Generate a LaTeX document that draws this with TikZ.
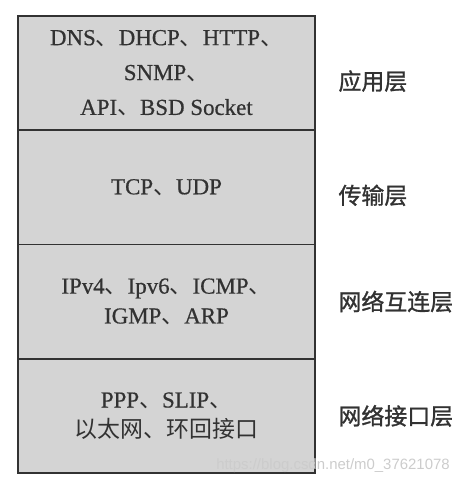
\documentclass[tikz,border=0pt]{standalone}
\usepackage{fontspec}
\setmainfont{Liberation Serif}[FakeBold=0.6]
\newfontfamily\cjk{Noto Sans CJK SC}
\newfontfamily\cjktag{Noto Sans CJK SC}[FakeBold=1.2]
\newfontfamily\wmfont{Liberation Sans}
\usetikzlibrary{positioning}
\definecolor{layergray}{RGB}{212,212,212}
\definecolor{edgegray}{RGB}{50,50,50}
\definecolor{inkgray}{RGB}{50,50,50}
\newcommand{\dn}{{\cjk 、}}

\begin{document}
\begin{tikzpicture}[x=1bp, y=-1bp,
  layer/.style={draw=edgegray, line width=1.8bp, fill=layergray, rectangle, minimum width=297bp, minimum height=114.25bp, inner sep=0pt, outer sep=0pt, align=center, text=inkgray, font=\fontsize{23}{35}\selectfont},
  tag/.style={text=inkgray, font=\cjktag\fontsize{23}{28}\selectfont},
  stamp/.style={text=gray!40, font=\wmfont\fontsize{15}{18}\selectfont}]
\useasboundingbox (0,0) rectangle (467,484);

% Application layer
\node[layer] (app) at (166.5,73.1) {DNS\dn DHCP\dn HTTP\dn\\SNMP\dn\\API\dn BSD Socket};
\node[tag, right=20bp of app.east, anchor=west, yshift=-8bp] (applbl) {应用层};

% Transport layer
\node[layer, below=0pt of app] (trans) {TCP\dn UDP};
\node[tag, right=20bp of trans.east, anchor=west, yshift=-8bp] (translbl) {传输层};

% Internet layer
\node[layer, below=0pt of trans, font=\fontsize{23}{30}\selectfont] (inet) {IPv4\dn Ipv6\dn ICMP\dn\\IGMP\dn ARP};
\node[tag, right=20bp of inet.east, anchor=west] (inetlbl) {网络互连层};

% Network interface layer
\node[layer, below=0pt of inet, font=\fontsize{23}{30}\selectfont] (link) {PPP\dn SLIP\dn\\{\cjk 以太网、环回接口}};
\node[tag, right=20bp of link.east, anchor=west] (linklbl) {网络接口层};

% Watermark
\node[stamp] (wm) at (333,466) {https://blog.csdn.net/m0\_37621078};
\end{tikzpicture}
\end{document}
